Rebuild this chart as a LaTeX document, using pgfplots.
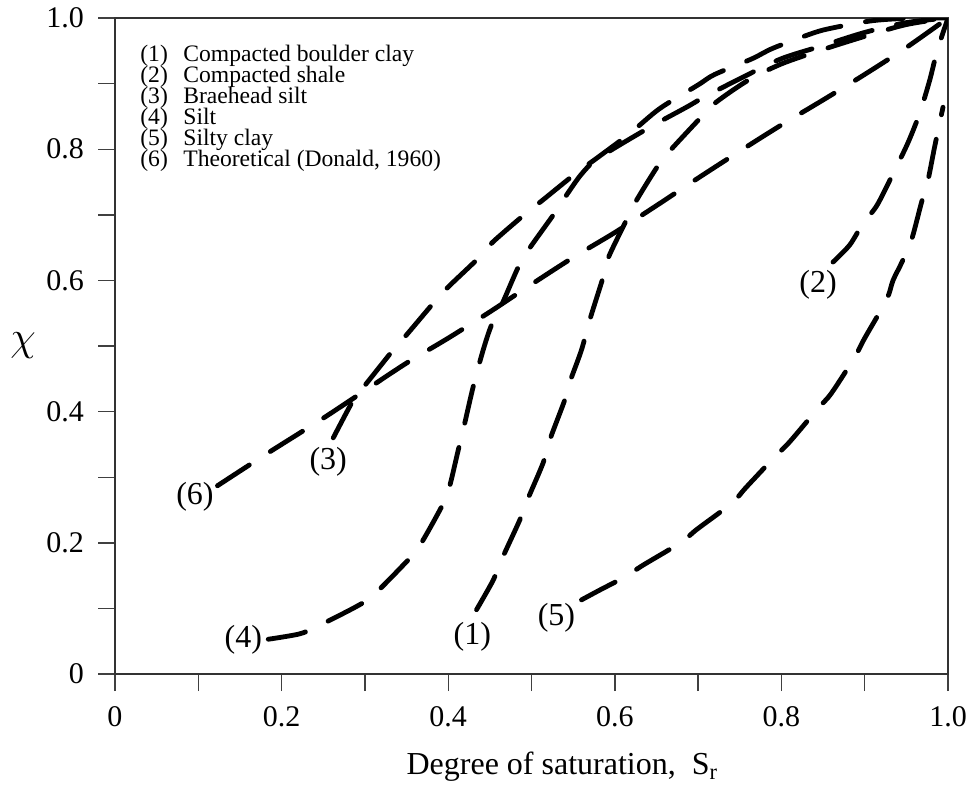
\documentclass[border=0pt]{standalone}
\usepackage{fontspec}
\setmainfont{Liberation Serif}
\usepackage{pgfplots}
\pgfplotsset{compat=1.18}
\begin{document}
\begin{tikzpicture}[
  curve/.style={black, line width=2.4pt, dash pattern=on 19pt off 12.5pt, line cap=round, line join=round, smooth, tension=0.5, mark=none},
  lbl/.style={font=\fontsize{16}{19}\selectfont, inner sep=0pt}]
\begin{axis}[
  at={(0,0)}, anchor=south west,
  scale only axis, width=416.5pt, height=328pt,
  xmin=0, xmax=1, ymin=0, ymax=1,
  xtick={0,0.1,0.2,0.3,0.4,0.5,0.6,0.7,0.8,0.9,1},
  xticklabels={0,,0.2,,0.4,,0.6,,0.8,,1.0},
  ytick={0,0.1,0.2,0.3,0.4,0.5,0.6,0.7,0.8,0.9,1},
  yticklabels={0,,0.2,,0.4,,0.6,,0.8,,1.0},
  tick pos=left, tick align=outside, major tick length=8.5pt,
  tick style={black!75, line width=0.7pt},
  axis line style={black!80, line width=0.9pt},
  ticklabel style={font=\fontsize{15}{18}\selectfont},
  xticklabel style={yshift=-4pt},
  yticklabel style={xshift=-3.5pt},
  /pgf/number format/assume math mode=true,
  xlabel={Degree of saturation,\ \ S\textsubscript{r}},
  ylabel={$\chi$},
  label style={font=\fontsize{16}{19}\selectfont},
  xlabel style={at={(axis description cs:0.537,0)}, anchor=base, yshift=-50pt},
  ylabel style={at={(axis description cs:0,0.5)}, anchor=center, rotate=-90, xshift=-46pt, font=\fontsize{20}{22}\selectfont},
]
% (1) Compacted boulder clay
\addplot[curve] coordinates {(0.434,0.098) (0.454,0.143) (0.464,0.174) (0.486,0.235) (0.496,0.268) (0.514,0.322) (0.522,0.357) (0.54,0.418) (0.546,0.445) (0.56,0.494) (0.57,0.54) (0.586,0.605) (0.592,0.634) (0.612,0.687) (0.626,0.722) (0.654,0.779) (0.67,0.803) (0.706,0.852) (0.722,0.872) (0.76,0.905) (0.8,0.93) (0.85,0.952) (0.9,0.972) (0.95,0.99) (1,1)};
% (2) Compacted shale
\addplot[curve] coordinates {(0.862,0.628) (0.882,0.654) (0.898,0.687) (0.915,0.715) (0.936,0.768) (0.952,0.81) (0.966,0.855) (0.978,0.905) (0.987,0.95) (1,1)};
% (3) Braehead silt
\addplot[curve] coordinates {(0.262,0.36) (0.288,0.422) (0.30,0.44) (0.334,0.494) (0.35,0.517) (0.384,0.568) (0.40,0.59) (0.438,0.636) (0.454,0.659) (0.494,0.703) (0.514,0.723) (0.554,0.764) (0.578,0.786) (0.618,0.824) (0.654,0.862) (0.70,0.898) (0.72,0.914) (0.765,0.938) (0.79,0.954) (0.838,0.977) (0.862,0.985) (0.91,0.996) (0.96,1.0) (1,1)};
% (4) Silt
\addplot[curve] coordinates {(0.184,0.053) (0.221,0.061) (0.242,0.072) (0.29,0.103) (0.31,0.12) (0.346,0.166) (0.364,0.192) (0.39,0.25) (0.40,0.278) (0.412,0.341) (0.418,0.372) (0.43,0.438) (0.442,0.494) (0.452,0.532) (0.465,0.565) (0.484,0.62) (0.496,0.646) (0.528,0.703) (0.542,0.73) (0.56,0.762) (0.58,0.786) (0.64,0.832) (0.686,0.864) (0.708,0.88) (0.754,0.91) (0.8,0.938) (0.85,0.958) (0.9,0.978) (0.95,0.993) (1,1)};
% (5) Silty clay
\addplot[curve] coordinates {(0.56,0.113) (0.582,0.128) (0.612,0.148) (0.634,0.166) (0.68,0.201) (0.698,0.22) (0.74,0.26) (0.758,0.285) (0.792,0.331) (0.81,0.354) (0.844,0.405) (0.86,0.428) (0.888,0.483) (0.90,0.512) (0.926,0.57) (0.934,0.60) (0.944,0.626) (0.956,0.661) (0.968,0.718) (0.976,0.753) (0.984,0.804) (0.994,0.864)};
% (6) Theoretical (Donald, 1960)
\addplot[curve] coordinates {(0.123,0.287) (0.18,0.334) (0.25,0.39) (0.3,0.432) (0.35,0.474) (0.40,0.512) (0.45,0.552) (0.5,0.594) (0.55,0.635) (0.6,0.673) (0.65,0.714) (0.70,0.756) (0.75,0.797) (0.8,0.837) (0.85,0.875) (0.9,0.914) (0.95,0.955) (1,1)};

\node[lbl] at (axis cs:0.096,0.27) {(6)};
\node[lbl] at (axis cs:0.256,0.323) {(3)};
\node[lbl] at (axis cs:0.154,0.052) {(4)};
\node[lbl] at (axis cs:0.429,0.056) {(1)};
\node[lbl] at (axis cs:0.53,0.085) {(5)};
\node[lbl] at (axis cs:0.844,0.593) {(2)};

\node[anchor=north west, inner sep=0pt, align=left,
      font={\fontsize{11.8}{10.5}\selectfont\lineskiplimit=-30pt}]
  at (axis cs:0.030,0.960) {%
\makebox[21.5pt][l]{(1)}Compacted boulder clay\\
\makebox[21.5pt][l]{(2)}Compacted shale\\
\makebox[21.5pt][l]{(3)}Braehead silt\\
\makebox[21.5pt][l]{(4)}Silt\\
\makebox[21.5pt][l]{(5)}Silty clay\\
\makebox[21.5pt][l]{(6)}Theoretical (Donald, 1960)};
\end{axis}
\pgfresetboundingbox
\path[use as bounding box] (-57.5pt,-57.5pt) rectangle (429pt,337pt);
\end{tikzpicture}
\end{document}
